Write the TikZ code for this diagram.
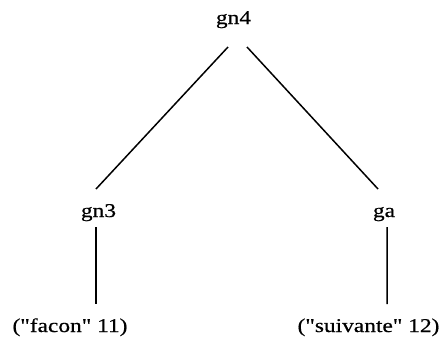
\documentclass[tikz,border=0pt]{standalone}
\usepackage{fontspec}
\setmainfont{Liberation Serif}[Ligatures=TeXOff,FakeStretch=1.2,FakeBold=0.6]
\usetikzlibrary{calc}
\begin{document}
\begin{tikzpicture}[x=1bp,y=-1bp,
  lbl/.style={anchor=base,inner sep=0pt,font=\fontsize{19.5bp}{22bp}\selectfont},
  edge/.style={line width=1.5pt}]
\useasboundingbox (0,0) rectangle (441,345);
\node[lbl] (gn4) at (233.5,24) {gn4};
\node[lbl] (gn3) at (98.5,217) {gn3};
\node[lbl] (ga) at (384,217) {ga};
\node[lbl] (facon) at (70,332) {("facon" 11)};
\node[lbl] (suiv) at (368.5,332) {("suivante" 12)};
\draw[edge] ($(gn4.base)+(-5.5,23)$) -- ($(gn3.base)+(-2.5,-28)$);
\draw[edge] ($(gn4.base)+(13.5,23)$) -- ($(ga.base)+(-6,-28)$);
\draw[edge] ($(gn3.base)+(-2.5,10)$) -- ($(facon.base)+(26,-28)$);
\draw[edge] ($(ga.base)+(3,10)$) -- ($(suiv.base)+(18.5,-28)$);
\end{tikzpicture}
\end{document}
